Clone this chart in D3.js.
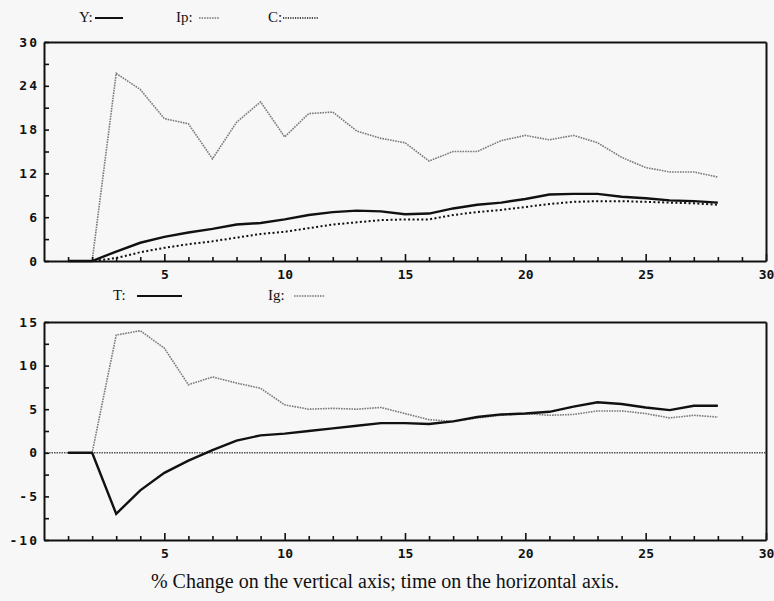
<!DOCTYPE html>
<html>
<head>
<meta charset="utf-8">
<script src="https://cdn.jsdelivr.net/npm/d3@7"></script>
</head>
<body style="margin:0;background:#f7f7f7">
<svg id="chart" width="774" height="601" style="display:block"></svg>
<script>
const time = d3.range(1, 29)

// top panel
const seriesY = [0, 0, 1.3, 2.5, 3.3, 3.9, 4.4, 5.0, 5.2, 5.7, 6.3, 6.7, 6.9, 6.8, 6.4, 6.5, 7.2, 7.7, 8.0, 8.5, 9.1, 9.2, 9.2, 8.8, 8.6, 8.3, 8.2, 8.0]
const seriesIp = [0, 0, 25.7, 23.5, 19.5, 18.8, 14.0, 19.0, 21.8, 17.0, 20.2, 20.4, 17.8, 16.8, 16.2, 13.7, 15.0, 15.0, 16.5, 17.2, 16.6, 17.2, 16.2, 14.2, 12.8, 12.2, 12.2, 11.5]
const seriesC = [0, 0, 0.4, 1.2, 1.8, 2.3, 2.7, 3.2, 3.7, 4.0, 4.5, 5.0, 5.3, 5.6, 5.7, 5.7, 6.3, 6.7, 7.0, 7.4, 7.8, 8.1, 8.2, 8.2, 8.1, 8.0, 7.9, 7.7]

// bottom panel
const seriesT = [0, 0, -7.0, -4.3, -2.3, -0.9, 0.3, 1.4, 2.0, 2.2, 2.5, 2.8, 3.1, 3.4, 3.4, 3.3, 3.6, 4.1, 4.4, 4.5, 4.7, 5.3, 5.8, 5.6, 5.2, 4.9, 5.4, 5.4]
const seriesIg = [0, 0, 13.5, 14.0, 12.0, 7.8, 8.7, 8.0, 7.4, 5.5, 5.0, 5.1, 5.0, 5.2, 4.5, 3.8, 3.6, 4.0, 4.3, 4.5, 4.3, 4.4, 4.8, 4.8, 4.5, 4.0, 4.3, 4.1]

const xTicks = d3.range(1, 31)
const topTicks = d3.range(0, 31, 3)
const bottomTicks = d3.range(-10, 15.1, 2.5)

const svg = d3.select('#chart')
const x = d3.scaleLinear().domain([0, 30]).range([44, 766])

const styles = {
  solid: { stroke: '#111', width: 2.4, dash: null },
  grey: { stroke: '#7a7a7a', width: 1.6, dash: '1.6,1' },
  dots: { stroke: '#111', width: 2, dash: '2,2.4' }
}

function panel(y, ticks, labelStep, series, zeroLine) {
  const g = svg.append('g')
  const yb = y(y.domain()[0])
  const yt = y(y.domain()[1])

  if (zeroLine) {
    g.append('path')
      .attr('d', `M${x(0)},${y(0)}H${x(30)}`)
      .attr('stroke', '#555').attr('stroke-width', 1.6)
      .attr('stroke-dasharray', '1.5,1')
  }

  const line = d3.line()
    .x((d, i) => x(time[i]))
    .y(d => y(d))

  series.forEach(s => {
    const st = styles[s.style]
    const p = g.append('path')
      .attr('d', line(s.values))
      .attr('fill', 'none')
      .attr('stroke', st.stroke)
      .attr('stroke-width', st.width)
    if (st.dash) p.attr('stroke-dasharray', st.dash)
  })

  // frame from the axes' own domain lines (top and right, no labels)
  g.append('g')
    .attr('transform', `translate(0,${yt})`)
    .call(d3.axisTop(x).tickValues([]).tickSizeOuter(0))
  g.append('g')
    .attr('transform', `translate(${x(30)},0)`)
    .call(d3.axisRight(y).tickValues([]).tickSizeOuter(0))

  // x axis, ticks inside
  const gx = g.append('g')
    .attr('transform', `translate(0,${yb})`)
    .call(d3.axisBottom(x)
      .tickValues(xTicks)
      .tickSizeInner(-4)
      .tickSizeOuter(0)
      .tickPadding(9)
      .tickFormat(d => (d % 5 === 0 ? d : '')))
  gx.selectAll('.tick line')
    .attr('y2', d => (d % 5 === 0 ? -7 : -4))

  // y axis, ticks inside
  g.append('g')
    .attr('transform', `translate(${x(0)},0)`)
    .call(d3.axisLeft(y)
      .tickValues(ticks)
      .tickSizeInner(-5)
      .tickSizeOuter(0)
      .tickPadding(5)
      .tickFormat(d => (Math.abs(d % labelStep) < 1e-6 ? d : '')))
    .selectAll('.tick text').attr('letter-spacing', 2)

  g.selectAll('.domain').attr('stroke', '#111').attr('stroke-width', 2)
  g.selectAll('.tick line').attr('stroke', '#111').attr('stroke-width', 1.6)
  g.selectAll('.tick text')
    .attr('font-family', 'DejaVu Sans Mono, monospace')
    .attr('font-weight', 'bold')
    .attr('font-size', 13)
    .attr('fill', '#111')
}

const yTop = d3.scaleLinear().domain([0, 30]).range([261, 42])
const yBottom = d3.scaleLinear().domain([-10, 15]).range([540, 322])

panel(yTop, topTicks, 6, [
  { values: seriesIp, style: 'grey' },
  { values: seriesC, style: 'dots' },
  { values: seriesY, style: 'solid' }
], false)

panel(yBottom, bottomTicks, 5, [
  { values: seriesIg, style: 'grey' },
  { values: seriesT, style: 'solid' }
], true)

// legends
function legendItem(label, tx, ty, lx1, lx2, style) {
  const st = styles[style]
  svg.append('text')
    .attr('font-family', 'Liberation Serif, serif').attr('font-size', 15).attr('fill', '#111')
    .attr('x', tx).attr('y', ty).text(label)
  const l = svg.append('path')
    .attr('d', `M${lx1},${ty - 4}H${lx2}`)
    .attr('stroke', st.stroke).attr('stroke-width', style === 'solid' ? 2 : 1.6)
  if (style === 'dots') l.attr('stroke-dasharray', '1.2,1.2')
  else if (st.dash) l.attr('stroke-dasharray', st.dash)
}

legendItem('Y:', 79, 22, 95, 123, 'solid')
legendItem('Ip:', 176, 22, 199, 219, 'grey')
legendItem('C:', 268, 22, 283, 318, 'dots')
legendItem('T:', 113, 300, 137, 182, 'solid')
legendItem('Ig:', 268, 300, 294, 325, 'grey')

svg.append('text')
  .attr('font-family', 'Liberation Serif, serif').attr('font-size', 20).attr('fill', '#111')
  .attr('x', 385).attr('y', 588)
  .attr('text-anchor', 'middle')
  .text('% Change on the vertical axis; time on the horizontal axis.')
</script>
</body>
</html>
